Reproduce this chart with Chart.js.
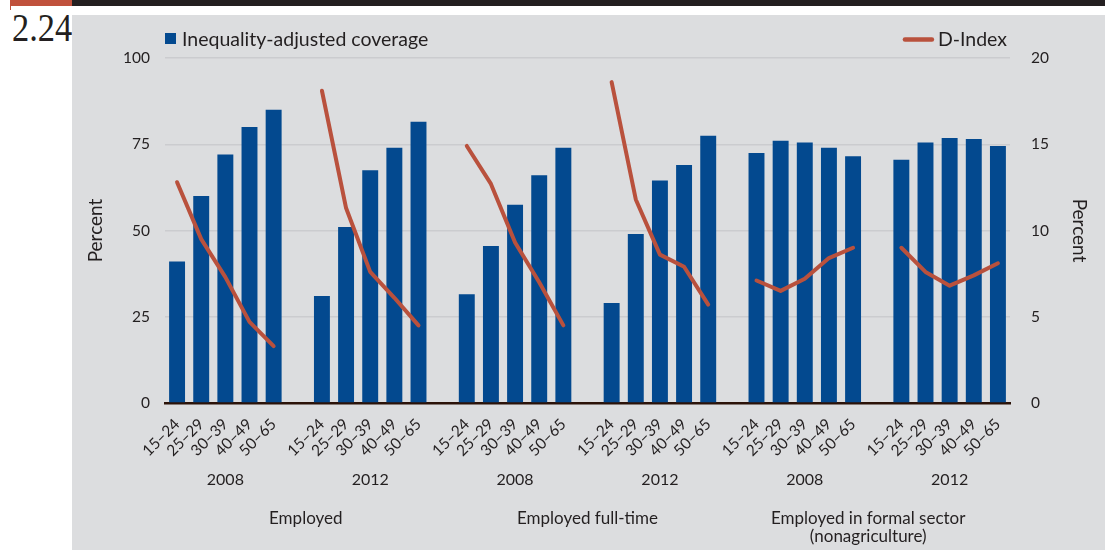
<!DOCTYPE html>
<html>
<head>
<meta charset="utf-8">
<script src="https://cdn.jsdelivr.net/npm/chart.js@4/dist/chart.umd.min.js"></script>
<style>
  html, body { margin: 0; padding: 0; background: #ffffff; }
  #page { position: relative; width: 1105px; height: 550px; overflow: hidden; }
  .band { position: absolute; top: 0; left: 72px; right: 0; height: 6px; background: #231f20; }
  .tab { position: absolute; top: 0; left: 10px; width: 62px; height: 6px; background: #c0513c; }
  .tabline { position: absolute; top: 6px; left: 10px; width: 1px; height: 4px; background: #c0513c; }
  .num { position: absolute; left: 12px; top: 8px; font: 40px/40px "Liberation Serif", serif; color: #231f20;
         transform: scaleX(0.86); transform-origin: left top; }
  .panel { position: absolute; left: 72px; top: 15px; right: 0; bottom: 0; background: #dcdddf; }
  canvas { position: absolute; left: 0; top: 0; }
</style>
</head>
<body>
<div id="page">
  <div class="band"></div>
  <div class="tab"></div>
  <div class="tabline"></div>
  <div class="num">2.24</div>
  <div class="panel"></div>
  <canvas id="c" width="1105" height="550"></canvas>
</div>
<script>
// Age bands shown under every bar group
const ageBands = ['15–24', '25–29', '30–39', '40–49', '50–65'];
// Survey year of each of the six bar groups
const years = ['2008', '2012', '2008', '2012', '2008', '2012'];
// Employment definition covering each pair of groups
const panels = [['Employed'], ['Employed full-time'], ['Employed in formal sector', '(nonagriculture)']];

// Inequality-adjusted coverage (percent, left axis), group by group
const coverage = [
  41, 60, 72, 80, 85,
  31, 51, 67.5, 74, 81.5,
  31.5, 45.5, 57.5, 66, 74,
  29, 49, 64.5, 69, 77.5,
  72.5, 76, 75.5, 74, 71.5,
  70.5, 75.5, 76.8, 76.5, 74.5
];
// D-Index (percent, right axis), group by group
const dIndex = [
  12.8, 9.5, 7.3, 4.7, 3.3,
  18.1, 11.3, 7.6, 6.1, 4.5,
  14.9, 12.7, 9.3, 7.0, 4.5,
  18.6, 11.8, 8.6, 7.9, 5.7,
  7.1, 6.5, 7.2, 8.4, 9.0,
  9.0, 7.6, 6.8, 7.4, 8.1
];

const leftTicks = [0, 25, 50, 75, 100];
const rightTicks = [0, 5, 10, 15, 20];

const BAR_BLUE = '#03498f';
const LINE_RED = '#b9513d';
const INK = '#231f20';
const FONT = 'Lato, "Open Sans", sans-serif';

// Lay the six groups out on one category axis, with an empty slot between groups
const labels = [], barData = [], lineData = [];
years.forEach((y, g) => {
  ageBands.forEach((a, i) => {
    labels.push(a);
    barData.push(coverage[g * 5 + i]);
    lineData.push(dIndex[g * 5 + i]);
  });
  if (g < years.length - 1) { labels.push(''); barData.push(null); lineData.push(null); }
});
const slotOf = (g, i) => g * 6 + i;

// Legend at the top corners and the two-level group captions under the axis
const annotations = {
  id: 'annotations',
  afterDraw(chart) {
    const ctx = chart.ctx;
    const x = chart.scales.x;
    const area = chart.chartArea;
    const [bars, line] = chart.data.datasets;
    ctx.save();
    ctx.fillStyle = INK;
    ctx.textBaseline = 'middle';
    ctx.font = '19.5px ' + FONT;

    // bar series key, left aligned with the plot
    ctx.fillStyle = bars.backgroundColor;
    ctx.fillRect(area.left, 33, 11, 11);
    ctx.fillStyle = INK;
    ctx.textAlign = 'left';
    ctx.fillText(bars.label, area.left + 17, 39.5);

    // line series key, right aligned with the plot
    ctx.textAlign = 'right';
    const tw = ctx.measureText(line.label).width;
    ctx.fillText(line.label, area.right - 3, 39.5);
    ctx.strokeStyle = line.borderColor;
    ctx.lineWidth = 4.5;
    ctx.lineCap = 'round';
    ctx.beginPath();
    const lx = area.right - 3 - tw - 6;
    ctx.moveTo(lx - 27, 39.5);
    ctx.lineTo(lx, 39.5);
    ctx.stroke();

    // year captions
    ctx.textAlign = 'center';
    ctx.textBaseline = 'alphabetic';
    ctx.font = '16px ' + FONT;
    years.forEach((y, g) => {
      ctx.fillText(y, x.getPixelForValue(slotOf(g, 2)), 485);
    });

    // employment definition captions
    ctx.font = '17px ' + FONT;
    const nudge = [8, 0, -9];
    panels.forEach((lines, p) => {
      const cx = (x.getPixelForValue(slotOf(p * 2, 2)) + x.getPixelForValue(slotOf(p * 2 + 1, 2))) / 2 + nudge[p];
      lines.forEach((t, k) => ctx.fillText(t, cx, 524 + k * 18));
    });
    ctx.restore();
  }
};

new Chart(document.getElementById('c'), {
  data: {
    labels,
    datasets: [
      {
        type: 'bar',
        label: 'Inequality-adjusted coverage',
        data: barData,
        yAxisID: 'y',
        backgroundColor: BAR_BLUE,
        barPercentage: 0.66,
        categoryPercentage: 1,
        order: 2
      },
      {
        type: 'line',
        label: 'D-Index',
        data: lineData,
        yAxisID: 'y2',
        borderColor: LINE_RED,
        backgroundColor: LINE_RED,
        borderWidth: 4,
        borderCapStyle: 'round',
        borderJoinStyle: 'round',
        pointRadius: 0,
        tension: 0,
        spanGaps: false,
        order: 1
      }
    ]
  },
  options: {
    responsive: false,
    animation: false,
    layout: { padding: { left: 72, top: 58, right: 0, bottom: 0 } },
    plugins: { legend: { display: false }, tooltip: { enabled: false } },
    scales: {
      x: {
        type: 'category',
        offset: true,
        z: 1,
        grid: { display: false },
        border: { display: true, color: '#2b1208', width: 2.5 },
        ticks: {
          autoSkip: false,
          minRotation: 45,
          maxRotation: 45,
          padding: 4,
          color: INK,
          font: { family: FONT, size: 15.5 }
        },
        afterFit(s) { s.height = 147; }
      },
      y: {
        position: 'left',
        min: 0, max: 100,
        afterBuildTicks(s) { s.ticks = leftTicks.map(v => ({ value: v })); },
        grid: { color: '#cbcccf', lineWidth: 1.5, drawTicks: false },
        border: { display: false },
        ticks: { padding: 15, color: INK, font: { family: FONT, size: 15.5 } },
        title: { display: true, text: 'Percent', color: INK, font: { family: FONT, size: 19 }, padding: { top: 12, bottom: 0 } },
        afterFit(s) { s.width = 93; }
      },
      y2: {
        position: 'right',
        min: 0, max: 20,
        afterBuildTicks(s) { s.ticks = rightTicks.map(v => ({ value: v })); },
        grid: { display: false },
        border: { display: false },
        ticks: { padding: 13, color: INK, font: { family: FONT, size: 15.5 } },
        title: { display: true, text: 'Percent', color: INK, font: { family: FONT, size: 19 }, padding: { top: 14, bottom: 0 } },
        afterFit(s) { s.width = 95; }
      }
    }
  },
  plugins: [annotations]
});
</script>
</body>
</html>
